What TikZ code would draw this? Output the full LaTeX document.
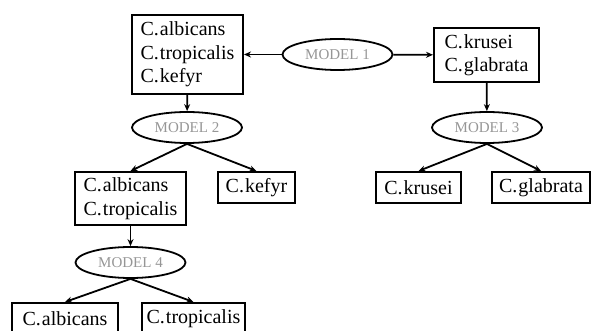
\documentclass[tikz,border=0pt]{standalone}
\usepackage{fontspec}
\setmainfont{Liberation Serif}
\usetikzlibrary{shapes.geometric,arrows.meta}
\tikzset{
    species/.style={draw, line width=2pt, align=left, inner sep=4pt,
        minimum height=31pt, font=\fontsize{20}{23.5}\selectfont},
    model/.style={draw, ellipse, line width=1.8pt, inner sep=0pt,
        minimum width=110pt, minimum height=31pt, text=modelgray,
        font=\fontsize{15}{17}\selectfont},
    link/.style={line width=1.8pt, -{Stealth[length=7pt,width=6pt]}}
}
\begin{document}
\begin{tikzpicture}[x=1pt,y=-1pt]
        % Define colors
        \definecolor{modelgray}{RGB}{150,150,150}
        \useasboundingbox (0,0) rectangle (592,331);
        \clip (0,0) rectangle (592,331);

        % Top level
        \node[species, minimum width=111pt, minimum height=79pt] (all) at (187.5,54.5)
            {C.\kern1pt albicans\\C.\kern1pt tropicalis\\C.\kern1pt kefyr};
        \node[model] (m1) at (337.5,54.5) {MODEL 1};
        \node[species, minimum width=105pt, minimum height=54pt] (kg) at (486.5,55)
            {C.\kern1pt krusei\\C.\kern1pt glabrata};

        % Second level
        \node[model] (m2) at (187,127.5) {MODEL 2};
        \node[model] (m3) at (487,127.5) {MODEL 3};
        \node[species, minimum width=111pt, minimum height=53pt] (at) at (130.5,198.5)
            {C.\kern1pt albicans\\C.\kern1pt tropicalis};
        \node[species, minimum width=77pt] (kef) at (256.5,187.5) {C.\kern1pt kefyr};
        \node[species, minimum width=85pt] (kru) at (418.5,187.5) {C.\kern1pt krusei};
        \node[species, minimum width=98pt] (gla) at (541,187.5) {C.\kern1pt glabrata};

        % Third level
        \node[model] (m4) at (130.5,262.5) {MODEL 4};
        \node[species, minimum width=106pt] (alb) at (65,318.5) {C.\kern1pt albicans};
        \node[species, minimum width=103pt] (tro) at (193.5,318.5) {C.\kern1pt tropicalis};

        % Draw arrows
        \draw[link] (m1) -- (all);
        \draw[link] (m1) -- (kg);
        \draw[link] (all) -- (m2);
        \draw[link] (kg) -- (m3);
        \draw[link] (m2.south) -- (at.north);
        \draw[link] (m2.south) -- (kef.north);
        \draw[link] (m3.south) -- (kru.north);
        \draw[link] (m3.south) -- (gla.north);
        \draw[link] (at) -- (m4);
        \draw[link] (m4.south) -- (alb.north);
        \draw[link] (m4.south) -- (tro.north);
\end{tikzpicture}
\end{document}
